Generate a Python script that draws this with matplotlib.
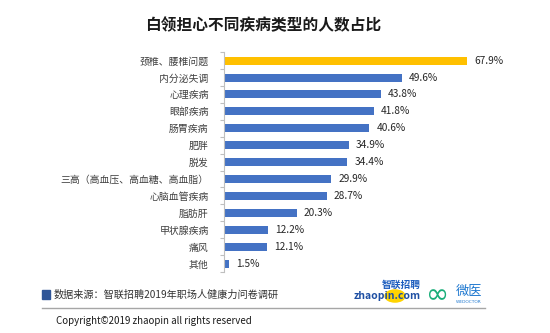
import matplotlib.pyplot as plt
import numpy as np
from matplotlib.patches import Circle, Rectangle
from matplotlib.lines import Line2D

plt.rcParams['font.family'] = ['Noto Sans CJK SC', 'DejaVu Sans']

# === DATA ===
categories = ["颈椎、腰椎问题", "内分泌失调", "心理疾病", "眼部疾病", "肠胃疾病",
              "肥胖", "脱发", "三高（高血压、高血糖、高血脂）", "心脑血管疾病",
              "脂肪肝", "甲状腺疾病", "痛风", "其他"]
values = [67.9, 49.6, 43.8, 41.8, 40.6, 34.9, 34.4, 29.9, 28.7, 20.3, 12.2, 12.1, 1.5]
labels = [f"{v}%" for v in values]

W, H = 550, 333
fig = plt.figure(figsize=(W / 100, H / 100), dpi=100)
fig.patch.set_facecolor('white')

# === BAR CHART ===
ax_left, ax_right = 224, 520
ax_top, ax_bottom = 52.2, 272.0
ax = fig.add_axes([ax_left / W, 1 - ax_bottom / H,
                   (ax_right - ax_left) / W, (ax_bottom - ax_top) / H])
px_per_pct = 3.58
ax.set_xlim(0, (ax_right - ax_left) / px_per_pct)
ax.set_ylim(len(categories) - 0.5, -0.5)

y = np.arange(len(categories))
colors = ['#FFC000'] + ['#4472C4'] * (len(categories) - 1)
ax.barh(y, values, height=0.47, color=colors, edgecolor='none')

for yi, v, lab in zip(y, values, labels):
    ax.text(v + 2.0, yi, lab, va='center', ha='left', fontsize=7.3, color='#262626')

ax.set_yticks(y)
ax.set_yticklabels(categories, fontsize=7.1, color='#404040')
ax.set_yticks(np.arange(-0.5, len(categories), 1), minor=True)
ax.tick_params(axis='y', which='major', length=0, pad=11)
ax.tick_params(axis='y', which='minor', length=3, color='#BFBFBF', width=0.8)
ax.set_xticks([])
for s in ['top', 'right', 'bottom']:
    ax.spines[s].set_visible(False)
ax.spines['left'].set_color('#BFBFBF')
ax.spines['left'].set_linewidth(0.8)

# === TITLE ===
fig.text(263 / W, 1 - 25 / H, "白领担心不同疾病类型的人数占比", ha='center', va='center',
         fontsize=11.3, fontweight='bold', color='#1a1a1a')

# === FOOTER ===
fig.patches.append(Rectangle((42 / W, 1 - 299 / H), 8 / W, 9 / H,
                             transform=fig.transFigure, color='#2F5597'))
fig.text(54 / W, 1 - 295 / H, "数据来源：智联招聘2019年职场人健康力问卷调研",
         ha='left', va='center', fontsize=7.3, color='#333333')
fig.lines.append(Line2D([42 / W, 485 / W], [1 - 308 / H, 1 - 308 / H],
                        transform=fig.transFigure, color='#A6A6A6', linewidth=1.0))
fig.text(56 / W, 1 - 321 / H, "Copyright©2019 zhaopin all rights reserved",
         ha='left', va='center', fontsize=7.0, color='#1a1a1a')

# logos
fig.patches.append(Circle((395 / W, 1 - 296 / H), 10 / W,
                          transform=fig.transFigure, color='#FFD400', zorder=1))
fig.text(401 / W, 1 - 285 / H, "智联招聘", ha='center', va='center', fontsize=7,
         fontweight='bold', color='#1F5FBF', style='italic', zorder=3)
fig.text(387 / W, 1 - 296 / H, "zhaopin.com", ha='center', va='center', fontsize=7.5,
         fontweight='bold', color='#1E4FA3', zorder=3)
fig.text(438 / W, 1 - 295 / H, "∞", ha='center', va='center', fontsize=20,
         color='#1AAE7A', family=['DejaVu Sans'])
fig.text(469 / W, 1 - 291 / H, "微医", ha='center', va='center', fontsize=9.5,
         color='#1E78D0')
fig.text(469 / W, 1 - 302 / H, "WEDOCTOR", ha='center', va='center', fontsize=3.2,
         color='#1E78D0', family=['DejaVu Sans'])

fig.savefig('out.png', dpi=100)
